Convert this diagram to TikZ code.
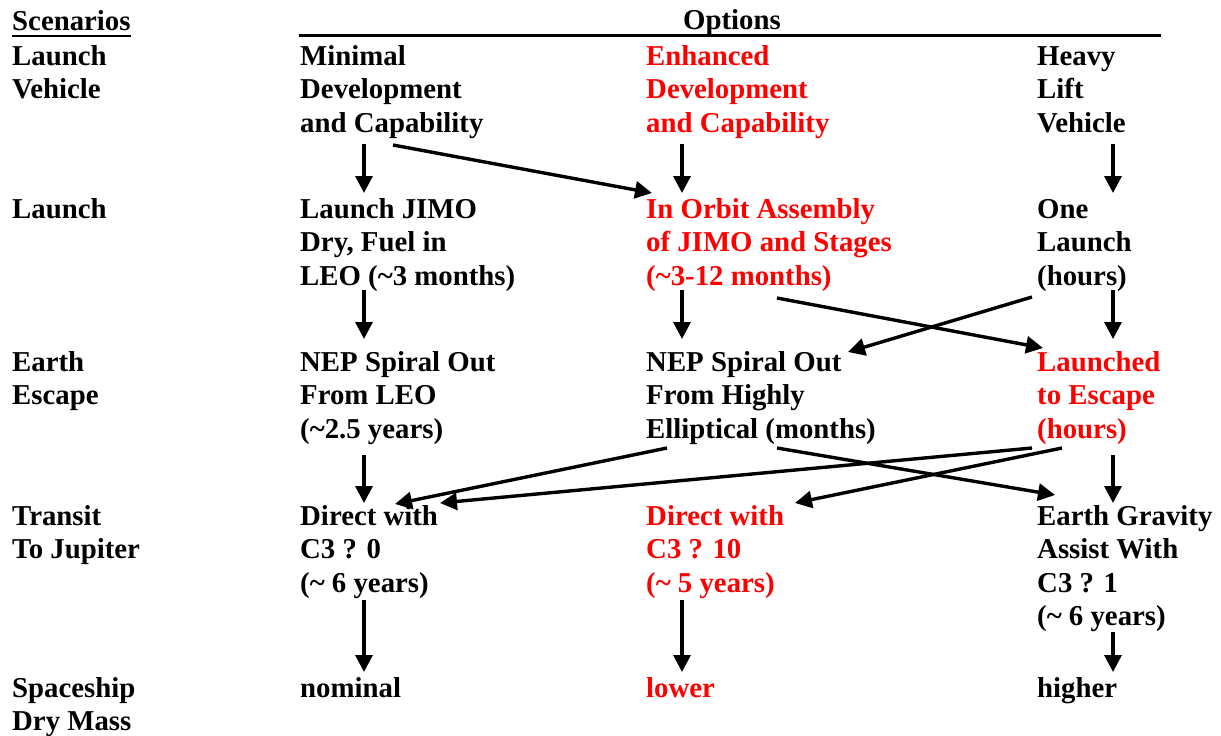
\documentclass[tikz,border=0pt]{standalone}
\usepackage{fontspec}
\setmainfont{Liberation Serif}[BoldFont={Liberation Serif Bold}]
\usetikzlibrary{arrows.meta}
\definecolor{hl}{RGB}{255,0,0}
\newcommand\blk[1]{\vtop{\baselineskip=33.5pt\lineskiplimit=-100pt\halign{##\hfil\cr#1\crcr}}}
\begin{document}
\begin{tikzpicture}[x=1pt,y=-1pt,
  txt/.style={anchor=base west, inner sep=0pt, font=\fontsize{28.8}{33.5}\selectfont\bfseries},
  hltxt/.style={txt, text=hl},
  arr/.style={-{Triangle[length=17pt,width=17pt]}, line width=3.4pt},
  rule/.style={line width=3pt}]
\useasboundingbox (0,0) rectangle (1221,736);
% headers
\node[txt] (scen) at (12,30) {Scenarios};
\draw[line width=2.5pt] ([yshift=-6pt]scen.base west) -- ([yshift=-6pt]scen.base east);
\node[txt] (opt) at (683,29) {Options};
\coordinate (rl) at (299,35);
\coordinate (rr) at (1161,35);
\draw[rule] (rl) -- (rr);
% row labels
\node[txt] (r1) at (12,65) {\blk{Launch\cr Vehicle}};
\node[txt] (r2) at (12,218) {\blk{Launch}};
\node[txt] (r3) at (12,371) {\blk{Earth\cr Escape}};
\node[txt] (r4) at (12,525) {\blk{Transit\cr To Jupiter}};
\node[txt] (r5) at (12,697) {\blk{Spaceship\cr Dry Mass}};
% row 1
\node[txt] (a1) at (300,65) {\blk{Minimal\cr Development\cr and Capability}};
\node[hltxt] (b1) at (646,65) {\blk{Enhanced\cr Development\cr and Capability}};
\node[txt] (c1) at (1037,65) {\blk{Heavy\cr Lift\cr Vehicle}};
% row 2
\node[txt] (a2) at (300,218) {\blk{Launch JIMO\cr Dry, Fuel in\cr LEO (\textasciitilde 3 months)}};
\node[hltxt] (b2) at (646,218) {\blk{In Orbit Assembly\cr of JIMO and Stages\cr (\textasciitilde 3-12 months)}};
\node[txt] (c2) at (1037,218) {\blk{One\cr Launch\cr (hours)}};
% row 3
\node[txt] (a3) at (300,371) {\blk{NEP Spiral Out\cr From LEO\cr (\textasciitilde 2.5 years)}};
\node[txt] (b3) at (646,371) {\blk{NEP Spiral Out\cr From Highly\cr Elliptical (months)}};
\node[hltxt] (c3) at (1037,371) {\blk{Launched\cr to Escape\cr (hours)}};
% row 4
\node[txt] (a4) at (300,525) {\blk{Direct with\cr C3 ? 0\cr (\textasciitilde{} 6 years)}};
\node[hltxt] (b4) at (646,525) {\blk{Direct with\cr C3 ? 10\cr (\textasciitilde{} 5 years)}};
\node[txt] (c4) at (1037,525) {\blk{Earth Gravity\cr Assist With\cr C3 ? 1\cr (\textasciitilde{} 6 years)}};
% row 5
\node[txt] (a5) at (300,697) {nominal};
\node[hltxt] (b5) at (646,697) {lower};
\node[txt] (c5) at (1037,697) {higher};
% connector end points
\coordinate (a1s) at (364,144);  \coordinate (a2n) at (364,193);
\coordinate (a1d) at (393,145);  \coordinate (b2w) at (652,193);
\coordinate (b1s) at (682,144);  \coordinate (b2n) at (682,193);
\coordinate (c1s) at (1113,144); \coordinate (c2n) at (1113,193);
\coordinate (a2s) at (364,290);  \coordinate (a3n) at (364,339);
\coordinate (b2s) at (682,290);  \coordinate (b3n) at (682,339);
\coordinate (c2s) at (1113,290); \coordinate (c3n) at (1113,339);
\coordinate (b2e) at (777,298);  \coordinate (c3w) at (1043,348);
\coordinate (c2w) at (1032,297); \coordinate (b3e) at (848,352);
\coordinate (a3s) at (364,455);  \coordinate (a4n) at (364,503);
\coordinate (b3w) at (667,448);  \coordinate (a4e) at (395,504);
\coordinate (c3w2) at (1032,448); \coordinate (a4e2) at (440,503);
\coordinate (c3w3) at (1062,448); \coordinate (b4e) at (795,503);
\coordinate (b3e2) at (777,448); \coordinate (c4w) at (1055,495);
\coordinate (c3s) at (1113,455); \coordinate (c4n) at (1113,503);
\coordinate (a4s) at (364,600);  \coordinate (a5n) at (364,672);
\coordinate (b4s) at (682,600);  \coordinate (b5n) at (682,672);
\coordinate (c4s) at (1113,632); \coordinate (c5n) at (1113,672);
% connectors
\draw[arr] (a1s) -- (a2n);
\draw[arr] (a1d) -- (b2w);
\draw[arr] (b1s) -- (b2n);
\draw[arr] (c1s) -- (c2n);
\draw[arr] (a2s) -- (a3n);
\draw[arr] (b2s) -- (b3n);
\draw[arr] (c2s) -- (c3n);
\draw[arr] (b2e) -- (c3w);
\draw[arr] (c2w) -- (b3e);
\draw[arr] (a3s) -- (a4n);
\draw[arr] (b3w) -- (a4e);
\draw[arr] (c3w2) -- (a4e2);
\draw[arr] (c3w3) -- (b4e);
\draw[arr] (b3e2) -- (c4w);
\draw[arr] (c3s) -- (c4n);
\draw[arr] (a4s) -- (a5n);
\draw[arr] (b4s) -- (b5n);
\draw[arr] (c4s) -- (c5n);
\end{tikzpicture}
\end{document}
